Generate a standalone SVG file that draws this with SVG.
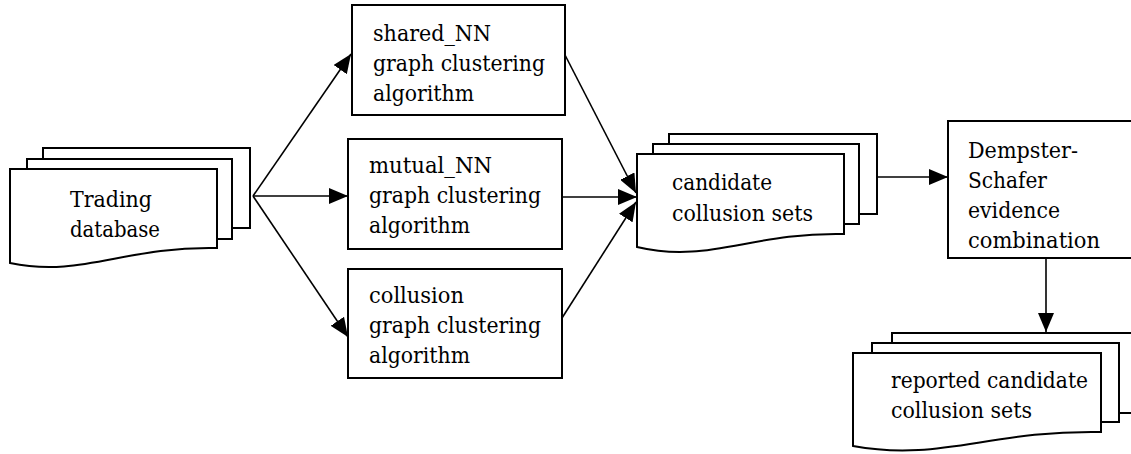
<svg xmlns="http://www.w3.org/2000/svg" width="1131" height="454" viewBox="0 0 1131 454">
  <style>
    .box { fill: #fff; stroke: #000; stroke-width: 2; }
    .edge { fill: none; stroke: #000; stroke-width: 1.6; marker-end: url(#arrow); }
    text { font-family: 'DejaVu Serif', 'Liberation Serif', serif; font-size: 23px; fill: #000; }
  </style>
  <defs>
    <marker id="arrow" markerUnits="userSpaceOnUse" markerWidth="19" markerHeight="16" refX="19" refY="8" orient="auto">
      <path d="M0,0 L19,8 L0,16 z" fill="#000"/>
    </marker>
  </defs>
  <rect width="1131" height="454" fill="#fff"/>

  <!-- connectors -->
  <g id="connectors">
    <line class="edge" x1="253" y1="196" x2="351" y2="54"/>
    <line class="edge" x1="253" y1="196" x2="348" y2="196"/>
    <line class="edge" x1="253" y1="196" x2="348" y2="337"/>
    <line class="edge" x1="565" y1="55" x2="636" y2="193"/>
    <line class="edge" x1="562" y1="197" x2="637" y2="197"/>
    <line class="edge" x1="562" y1="318" x2="636" y2="202"/>
    <line class="edge" x1="877" y1="177" x2="948" y2="177"/>
    <line class="edge" x1="1046" y1="258" x2="1046" y2="332"/>
  </g>

  <!-- multi-document: Trading database -->
  <g id="trading-database">
    <rect class="box" x="43" y="148" width="207" height="80"/>
    <rect class="box" x="27" y="159" width="205" height="80"/>
    <path class="box" d="M10,169 H217 V248 C124,246 82,278 10,263 Z"/>
    <text x="70" y="207" textLength="82" lengthAdjust="spacingAndGlyphs">Trading</text>
    <text x="70" y="237" textLength="90" lengthAdjust="spacingAndGlyphs">database</text>
  </g>

  <g id="shared-nn">
    <rect class="box" x="352" y="5" width="213" height="110"/>
    <text x="373" y="41" textLength="118" lengthAdjust="spacingAndGlyphs">shared_NN</text>
    <text x="373" y="71" textLength="172" lengthAdjust="spacingAndGlyphs">graph clustering</text>
    <text x="373" y="101" textLength="101" lengthAdjust="spacingAndGlyphs">algorithm</text>
  </g>

  <g id="mutual-nn">
    <rect class="box" x="348" y="139" width="214" height="110"/>
    <text x="369" y="173" textLength="123" lengthAdjust="spacingAndGlyphs">mutual_NN</text>
    <text x="369" y="203" textLength="172" lengthAdjust="spacingAndGlyphs">graph clustering</text>
    <text x="369" y="233" textLength="101" lengthAdjust="spacingAndGlyphs">algorithm</text>
  </g>

  <g id="collusion">
    <rect class="box" x="348" y="269" width="214" height="109"/>
    <text x="369" y="303" textLength="95" lengthAdjust="spacingAndGlyphs">collusion</text>
    <text x="369" y="333" textLength="172" lengthAdjust="spacingAndGlyphs">graph clustering</text>
    <text x="369" y="363" textLength="101" lengthAdjust="spacingAndGlyphs">algorithm</text>
  </g>

  <!-- multi-document: candidate collusion sets -->
  <g id="candidate-sets">
    <rect class="box" x="669" y="134" width="208" height="80"/>
    <rect class="box" x="653" y="144" width="206" height="80"/>
    <path class="box" d="M637,154 H844 V234 C751,232 709,264 637,247 Z"/>
    <text x="672" y="190" textLength="100" lengthAdjust="spacingAndGlyphs">candidate</text>
    <text x="672" y="221" textLength="141" lengthAdjust="spacingAndGlyphs">collusion sets</text>
  </g>

  <g id="dempster-schafer">
    <rect class="box" x="948" y="121" width="190" height="137"/>
    <text x="968" y="158" textLength="110" lengthAdjust="spacingAndGlyphs">Dempster-</text>
    <text x="968" y="188" textLength="79" lengthAdjust="spacingAndGlyphs">Schafer</text>
    <text x="968" y="218" textLength="92" lengthAdjust="spacingAndGlyphs">evidence</text>
    <text x="968" y="248" textLength="132" lengthAdjust="spacingAndGlyphs">combination</text>
  </g>

  <!-- multi-document: reported candidate collusion sets -->
  <g id="reported-sets">
    <rect class="box" x="892" y="333" width="250" height="80"/>
    <rect class="box" x="872" y="343" width="247" height="79"/>
    <path class="box" d="M853,353 H1101 V432 C990,430 940,462 853,446 Z"/>
    <text x="891" y="388" textLength="197" lengthAdjust="spacingAndGlyphs">reported candidate</text>
    <text x="891" y="418" textLength="141" lengthAdjust="spacingAndGlyphs">collusion sets</text>
  </g>
</svg>
